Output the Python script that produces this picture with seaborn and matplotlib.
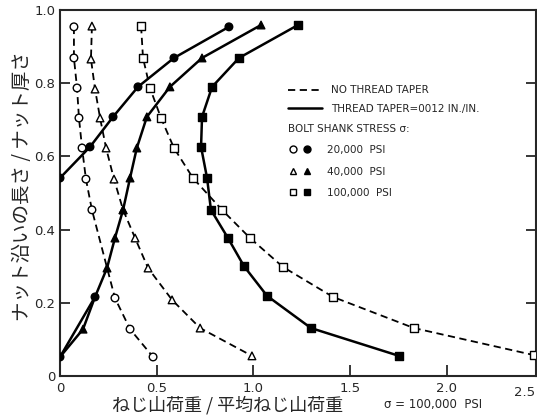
import pandas as pd
import seaborn as sns
import matplotlib.pyplot as plt
from matplotlib.lines import Line2D
from matplotlib.legend_handler import HandlerTuple
import matplotlib.transforms as mtransforms

# ねじ山荷重分布の読み取り値 (y = ナット沿いの長さ / ナット厚さ)
# ねじ山テーパなし
nt20_y = [0.954, 0.869, 0.787, 0.705, 0.623, 0.538, 0.454, 0.213, 0.128, 0.052]
nt20_x = [0.072, 0.072, 0.088, 0.098, 0.114, 0.134, 0.165, 0.284, 0.362, 0.481]
nt40_y = [0.956, 0.866, 0.784, 0.705, 0.623, 0.538, 0.454, 0.377, 0.295, 0.208, 0.131, 0.055]
nt40_x = [0.165, 0.160, 0.181, 0.207, 0.238, 0.279, 0.326, 0.388, 0.455, 0.579, 0.724, 0.992]
nt100_y = [0.956, 0.869, 0.787, 0.705, 0.623, 0.541, 0.454, 0.377, 0.298, 0.216, 0.131, 0.057]
nt100_x = [0.419, 0.429, 0.465, 0.522, 0.589, 0.687, 0.837, 0.982, 1.152, 1.411, 1.829, 2.450]

# ねじ山テーパ 0.0012 in./in.
tp20_y = [0.954, 0.869, 0.790, 0.708, 0.626, 0.541]
tp20_x = [0.873, 0.589, 0.403, 0.274, 0.155, 0.000]
tp20_low_y = [0.216, 0.052]   # 下側は 40,000 psi の曲線と重なる
tp20_low_x = [0.181, 0.000]
tp40_y = [0.959, 0.869, 0.790, 0.708, 0.623, 0.541, 0.454, 0.377, 0.295, 0.216, 0.128, 0.052]
tp40_x = [1.039, 0.734, 0.568, 0.449, 0.397, 0.362, 0.326, 0.284, 0.243, 0.181, 0.119, 0.000]
tp100_y = [0.959, 0.869, 0.790, 0.708, 0.626, 0.541, 0.454, 0.377, 0.300, 0.219, 0.131, 0.055]
tp100_x = [1.230, 0.925, 0.786, 0.734, 0.729, 0.760, 0.780, 0.868, 0.951, 1.070, 1.297, 1.752]

x_ticks = [0, 0.5, 1.0, 1.5, 2.0]
x_ticklabels = ["0", "0.5", "1.0", "1.5", "2.0"]
y_ticks = [0, 0.2, 0.4, 0.6, 0.8, 1.0]
y_ticklabels = ["0", "0.2", "0.4", "0.6", "0.8", "1.0"]

series = [
    ("nt20", "none", "circle", "open", nt20_x, nt20_y),
    ("nt40", "none", "triangle", "open", nt40_x, nt40_y),
    ("nt100", "none", "square", "open", nt100_x, nt100_y),
    ("tp20", "taper", "circle", "filled", tp20_x, tp20_y),
    ("tp20low", "taper", "circle", "filled", tp20_low_x, tp20_low_y),
    ("tp40", "taper", "triangle", "filled", tp40_x, tp40_y),
    ("tp100", "taper", "square", "filled", tp100_x, tp100_y),
]
rows = []
for name, taper, shape, fill, xs, ys in series:
    for xv, yv in zip(xs, ys):
        rows.append(dict(curve=name, taper=taper, shape=shape, fill=fill, x=xv, y=yv))
df = pd.DataFrame(rows)

sns.set_style("ticks")
plt.rcParams['font.family'] = ['DejaVu Sans', 'Noto Sans CJK JP']

fig = plt.figure(figsize=(5.37, 4.18), dpi=100)
ax = fig.add_axes([60 / 537, 42 / 418, 476 / 537, 366 / 418])

# 曲線
sns.lineplot(data=df[df.taper == "none"], x="x", y="y", units="curve", estimator=None,
             sort=False, color="black", linewidth=1.3, ax=ax, legend=False)
for ln in ax.lines:
    ln.set_dashes((4, 2.5))
sns.lineplot(data=df[df.taper == "taper"], x="x", y="y", units="curve", estimator=None,
             sort=False, color="black", linewidth=1.8, ax=ax, legend=False)

# 点 (重なる所は 20,000 psi の印を表示)
low_pts = set(zip(tp20_low_x, tp20_low_y))
mk = df[~((df.curve == "tp40") & df[["x", "y"]].apply(tuple, axis=1).isin(low_pts))]
sns.scatterplot(data=mk, x="x", y="y", style="shape", hue="fill",
                markers={"circle": "o", "triangle": "^", "square": "s"},
                palette={"open": "white", "filled": "black"},
                edgecolor="black", linewidth=1.0, s=30, ax=ax, legend=False, zorder=3)

ax.set_xlim(0, 2.46)
ax.set_ylim(0, 1.0)
ax.set_xticks(x_ticks)
ax.set_xticklabels(x_ticklabels, fontsize=9.5)
ax.set_yticks(y_ticks)
ax.set_yticklabels(y_ticklabels, fontsize=9.5)
ax.tick_params(axis="x", direction="in", length=8, width=1.3, pad=4)
ax.tick_params(axis="y", direction="in", length=7, width=1.3, pad=3.5, right=True)
for sp in ax.spines.values():
    sp.set_visible(True)
    sp.set_linewidth(1.5)

trans = mtransforms.blended_transform_factory(ax.transData, ax.transAxes)
ax.text(2.455, -0.028, "2.5", transform=trans, ha="right", va="top", fontsize=9.5, clip_on=False)
ax.text(1.93, -0.077, "σ = 100,000  PSI", transform=trans, ha="center", va="center",
        fontsize=8.5, clip_on=False)

ax.set_xlabel("ねじ山荷重 / 平均ねじ山荷重", fontsize=13, family=['Noto Sans CJK JP', 'DejaVu Sans'])
ax.set_ylabel("ナット沿いの長さ / ナット厚さ", fontsize=14, family=['Noto Sans CJK JP', 'DejaVu Sans'])
ax.xaxis.set_label_coords(0.353, -0.055)
ax.yaxis.set_label_coords(-0.057, 0.52)

# 凡例
h_lines = [Line2D([], [], color="black", lw=1.3, dashes=(4, 2.5)),
           Line2D([], [], color="black", lw=1.8)]
leg1 = ax.legend(h_lines, ["NO THREAD TAPER", "THREAD TAPER=0012 IN./IN."],
                 loc="upper left", bbox_to_anchor=(0.46, 0.82), frameon=False,
                 fontsize=7.5, handlelength=3.2, handletextpad=0.9, labelspacing=0.85)
ax.add_artist(leg1)

def mark(m, fc):
    return Line2D([], [], ls="none", marker=m, markersize=5, markerfacecolor=fc,
                  markeredgecolor="black", markeredgewidth=1.0)

h_marks = [(mark("o", "white"), mark("o", "black")),
           (mark("^", "white"), mark("^", "black")),
           (mark("s", "white"), mark("s", "black"))]
leg2 = ax.legend(h_marks, ["20,000  PSI", "40,000  PSI", "100,000  PSI"],
                 title="BOLT SHANK STRESS σ:", title_fontsize=7.5, alignment="left",
                 handler_map={tuple: HandlerTuple(ndivide=None, pad=0.6)},
                 loc="upper left", bbox_to_anchor=(0.46, 0.715), frameon=False,
                 fontsize=7.5, handlelength=2.2, handletextpad=1.5, labelspacing=1.1)

fig.savefig("out.png", dpi=100)
